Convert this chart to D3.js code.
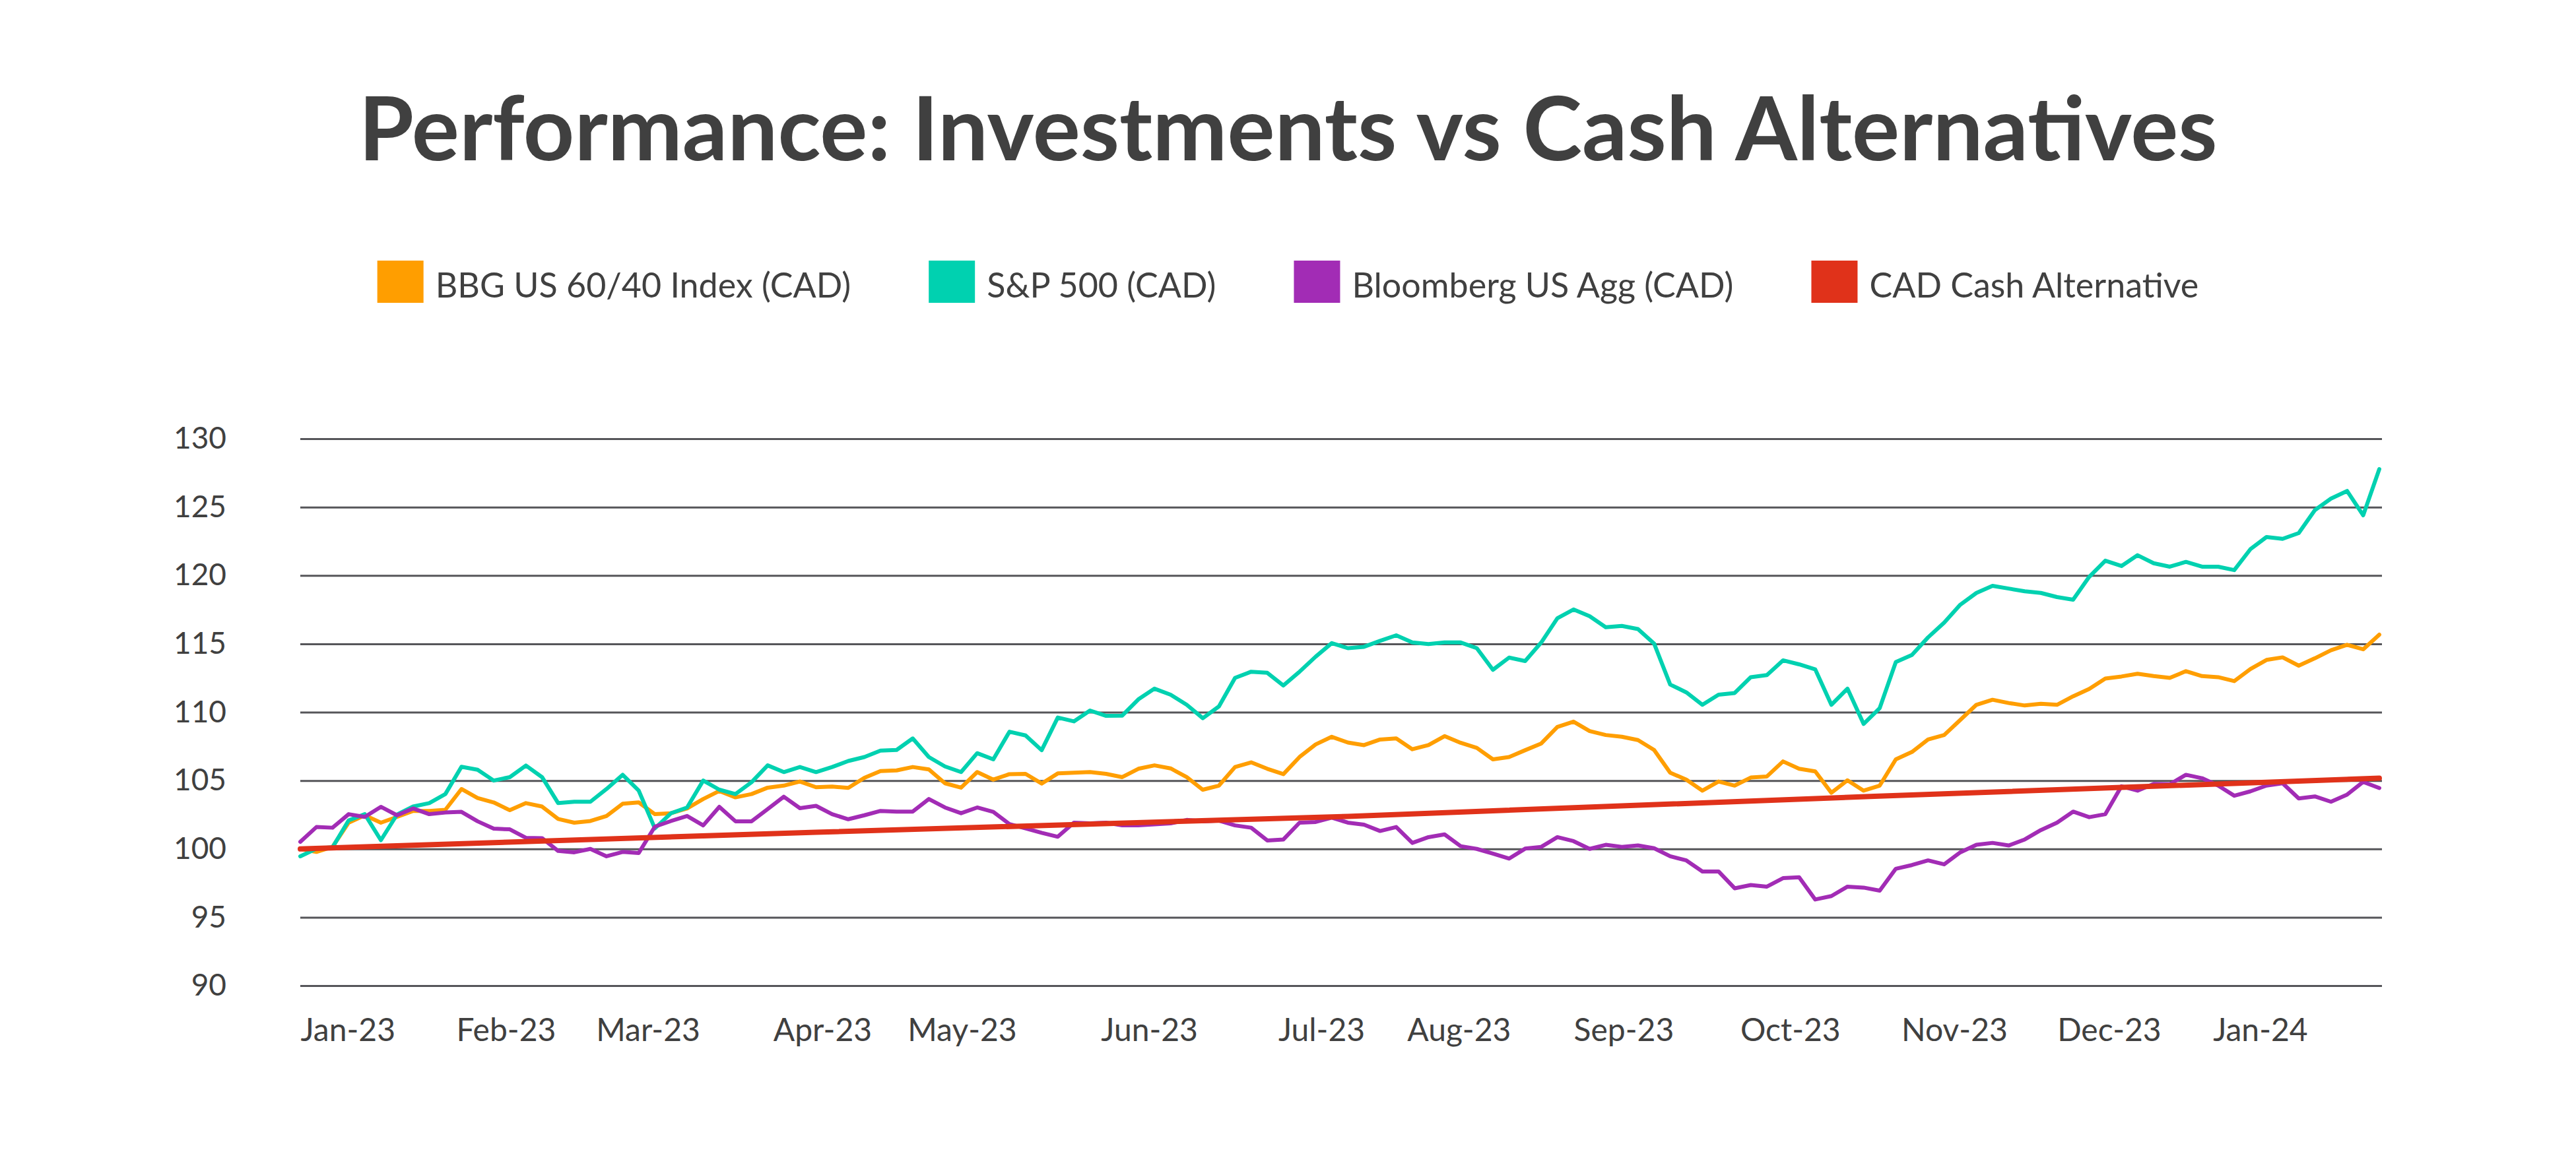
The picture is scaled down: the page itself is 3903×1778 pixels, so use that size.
<!DOCTYPE html>
<html>
<head>
<meta charset="utf-8">
<script src="https://cdn.jsdelivr.net/npm/d3@7"></script>
<style>
  body { margin: 0; background: #ffffff; }
  svg { display: block; font-family: Lato, "Open Sans", sans-serif; }
</style>
</head>
<body>
<svg id="chart"></svg>
<script>
// data, one value every 3 days from 3 Jan 2023
var startDate = "2023-01-03";
var endDate = "2024-01-25";
var stepDays = 3;

var sixtyFortyValues = [
  100.0, 99.78, 100.15, 101.92, 102.46, 101.92, 102.34, 102.78, 102.78, 102.86, 104.38, 103.72, 103.4, 102.83, 103.35, 103.1, 102.19, 101.92, 102.04, 102.41, 103.3, 103.4, 102.54, 102.61, 102.96, 103.65, 104.24, 103.77, 104.01, 104.48, 104.63, 104.93, 104.51,
  104.56, 104.46, 105.2, 105.69, 105.74, 105.99, 105.81, 104.8, 104.48, 105.62, 105.07, 105.47, 105.49, 104.78, 105.52, 105.57, 105.62, 105.49, 105.25, 105.86, 106.11, 105.89, 105.25, 104.33, 104.63, 105.99, 106.33, 105.86, 105.47, 106.72, 107.64, 108.2,
  107.78, 107.59, 108.0, 108.08, 107.29, 107.59, 108.25, 107.76, 107.39, 106.55, 106.72, 107.22, 107.71, 108.92, 109.31, 108.62, 108.33, 108.2, 107.96, 107.24, 105.57, 105.07, 104.26, 104.93, 104.63, 105.22, 105.3, 106.4, 105.86, 105.67, 104.11, 105.02, 104.26,
  104.63, 106.55, 107.09, 108.0, 108.33, 109.43, 110.54, 110.91, 110.67, 110.49, 110.62, 110.54, 111.16, 111.7, 112.46, 112.61, 112.81, 112.64, 112.51, 113.0, 112.64, 112.56, 112.27, 113.15, 113.82, 114.01, 113.4, 113.94, 114.53, 114.93, 114.6, 115.67
];

var sp500Values = [
  99.46, 100.02, 100.12, 102.09, 102.54, 100.64, 102.51, 103.1, 103.35, 104.01, 106.01, 105.79, 105.0, 105.25, 106.1, 105.25, 103.35, 103.45, 103.45, 104.38, 105.42, 104.26, 101.5, 102.61, 103.03, 105.0, 104.33, 104.01, 104.88, 106.11, 105.62, 105.99, 105.62,
  105.99, 106.43, 106.72, 107.19, 107.24, 108.08, 106.72, 106.03, 105.62, 107.0, 106.55, 108.57, 108.3, 107.22, 109.61, 109.33, 110.12, 109.73, 109.75, 110.94, 111.72, 111.28, 110.54, 109.56, 110.42, 112.51, 112.96, 112.88, 111.95, 112.96, 114.06, 115.05,
  114.68, 114.78, 115.22, 115.62, 115.1, 114.98, 115.1, 115.1, 114.68, 113.1, 113.99, 113.74, 115.1, 116.87, 117.51, 117.02, 116.21, 116.31, 116.08, 115.02, 112.02, 111.45, 110.54, 111.28, 111.4, 112.56, 112.71, 113.79, 113.5, 113.13, 110.54, 111.72, 109.14,
  110.3, 113.67, 114.19, 115.47, 116.55, 117.86, 118.72, 119.24, 119.04, 118.84, 118.72, 118.42, 118.23, 119.9, 121.08, 120.69, 121.48, 120.89, 120.64, 120.99, 120.64, 120.64, 120.39, 121.92, 122.81, 122.68, 123.1, 124.78, 125.62, 126.18, 124.4, 127.78
];

var aggValues = [
  100.52, 101.6, 101.55, 102.54, 102.34, 103.08, 102.46, 102.96, 102.54, 102.66, 102.71, 102.02, 101.48, 101.43, 100.81, 100.79, 99.85, 99.75, 100.0, 99.46, 99.78, 99.7, 101.63, 102.04, 102.41, 101.72, 103.08, 102.02, 102.02, 102.91, 103.82, 102.98, 103.15,
  102.54, 102.17, 102.46, 102.78, 102.73, 102.73, 103.65, 103.03, 102.61, 103.03, 102.71, 101.82, 101.5, 101.18, 100.89, 101.92, 101.87, 101.92, 101.72, 101.72, 101.8, 101.87, 102.12, 102.02, 102.07, 101.72, 101.55, 100.62, 100.69, 101.92, 101.97, 102.29,
  101.92, 101.77, 101.31, 101.6, 100.44, 100.86, 101.06, 100.2, 100.0, 99.66, 99.29, 100.02, 100.15, 100.86, 100.57, 100.0, 100.3, 100.15, 100.25, 100.05, 99.46, 99.16, 98.35, 98.35, 97.12, 97.36, 97.24, 97.86, 97.93, 96.3, 96.55, 97.24, 97.17,
  96.95, 98.55, 98.82, 99.16, 98.87, 99.75, 100.3, 100.44, 100.25, 100.69, 101.38, 101.92, 102.73, 102.32, 102.54, 104.58, 104.26, 104.75, 104.73, 105.42, 105.17, 104.63, 103.89, 104.21, 104.63, 104.8, 103.69, 103.84, 103.45, 103.97, 104.9, 104.45
];

var cashDates = ["2023-01-03", "2023-04-09", "2023-07-17", "2023-10-23", "2024-01-25"];
var cashValues = [100.0, 101.22, 102.38, 103.85, 105.17];

var seriesNames = ["BBG US 60/40 Index (CAD)", "S&P 500 (CAD)", "Bloomberg US Agg (CAD)", "CAD Cash Alternative"];
var seriesColors = ["#ff9e00", "#00d1b0", "#a22cb5", "#e0321a"];

var yTicks = [90, 95, 100, 105, 110, 115, 120, 125, 130];
var xTickLabels = ["Jan-23", "Feb-23", "Mar-23", "Apr-23", "May-23", "Jun-23", "Jul-23", "Aug-23", "Sep-23", "Oct-23", "Nov-23", "Dec-23", "Jan-24"];
var xTickDates = ["2023-01-03", "2023-02-01", "2023-02-27", "2023-04-01", "2023-04-26", "2023-06-01", "2023-07-04", "2023-07-28", "2023-08-28", "2023-09-28", "2023-10-28", "2023-11-26", "2023-12-25"];

var W = 3903, H = 1778;
var plot = { left: 455, right: 3605, top: 665, bottom: 1494, gridEnd: 3609 };
var textColor = "#404040";

var parse = d3.timeParse("%Y-%m-%d");

var svg = d3.select("#chart")
            .attr("width", W)
            .attr("height", H);

svg.append("rect")
   .attr("width", W)
   .attr("height", H)
   .attr("fill", "#ffffff");

var start = parse(startDate);
var end = parse(endDate);
var dates = d3.timeDay.range(start, d3.timeDay.offset(end, 1), stepDays);

var xScale = d3.scaleTime()
               .domain([start, end])
               .range([plot.left, plot.right]);

var yScale = d3.scaleLinear()
               .domain([90, 130])
               .range([plot.bottom, plot.top]);

// title
svg.append("text")
   .attr("x", W / 2)
   .attr("y", 243)
   .attr("text-anchor", "middle")
   .attr("font-size", 135)
   .attr("font-weight", 700)
   .attr("fill", textColor)
   .text("Performance: Investments vs Cash Alternatives");

// gridlines + y labels
var yAxis = d3.axisLeft(yScale)
              .tickValues(yTicks)
              .tickSize(-(plot.gridEnd - plot.left))
              .tickPadding(112);

var yG = svg.append("g")
            .attr("transform", "translate(" + plot.left + ",0)")
            .call(yAxis);
yG.select(".domain").remove();
yG.selectAll("line")
  .attr("stroke", "#555559")
  .attr("stroke-width", 3);
yG.selectAll("text")
  .attr("font-size", 46)
  .attr("font-family", "Lato, sans-serif")
  .attr("fill", textColor);

// x labels
var xAxis = d3.axisBottom(xScale)
              .tickValues(xTickDates.map(parse))
              .tickSize(0)
              .tickFormat(function(d, i) { return xTickLabels[i]; });

var xG = svg.append("g")
            .attr("transform", "translate(0," + plot.bottom + ")")
            .call(xAxis);
xG.select(".domain").remove();
xG.selectAll("text")
  .attr("y", 84)
  .attr("dy", 0)
  .attr("text-anchor", "start")
  .attr("font-size", 48)
  .attr("font-family", "Lato, sans-serif")
  .attr("fill", textColor);

// lines
var line = d3.line()
             .x(function(d) { return xScale(d.date); })
             .y(function(d) { return yScale(d.value); });

var daily = [sixtyFortyValues, sp500Values, aggValues].map(function(vals) {
  return vals.map(function(v, i) { return { date: dates[i], value: v }; });
});
var cash = cashValues.map(function(v, i) { return { date: parse(cashDates[i]), value: v }; });
var allSeries = daily.concat([cash]);

svg.append("g")
   .selectAll("path")
   .data(allSeries)
   .enter()
   .append("path")
   .attr("d", line)
   .attr("fill", "none")
   .attr("stroke", function(d, i) { return seriesColors[i]; })
   .attr("stroke-width", function(d, i) { return i == 3 ? 8 : 6; })
   .attr("stroke-linejoin", "round")
   .attr("stroke-linecap", "round");

// legend
var legend = svg.append("g");
var items = legend.selectAll("g")
                  .data(seriesNames)
                  .enter()
                  .append("g");

items.append("rect")
     .attr("x", 0)
     .attr("y", 395)
     .attr("width", 70)
     .attr("height", 64)
     .attr("fill", function(d, i) { return seriesColors[i]; });

items.append("text")
     .attr("x", 88)
     .attr("y", 451)
     .attr("font-size", 52)
     .attr("fill", textColor)
     .text(function(d) { return d; });

var cursor = 0;
items.each(function() {
  var g = d3.select(this);
  g.attr("transform", "translate(" + cursor + ",0)");
  cursor += 88 + g.select("text").node().getComputedTextLength() + 118;
});
var legendWidth = cursor - 118;
legend.attr("transform", "translate(" + (W / 2 - legendWidth / 2) + ",0)");
</script>
</body>
</html>
